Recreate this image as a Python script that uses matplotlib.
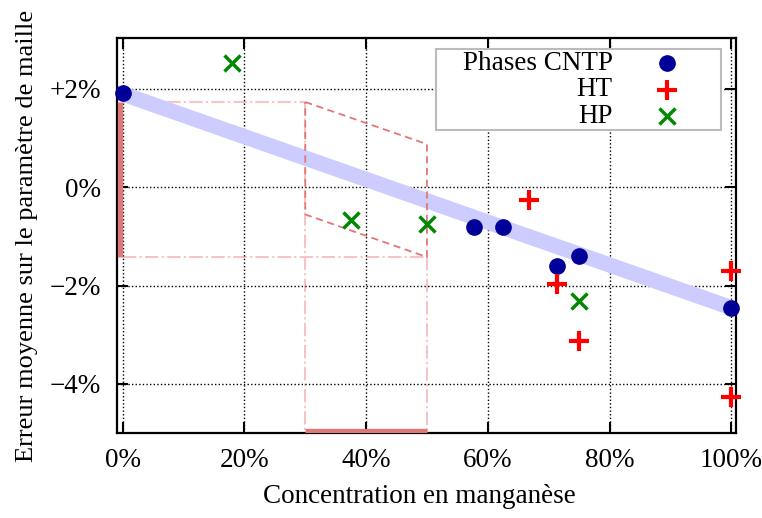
import numpy as np
import matplotlib
matplotlib.use("Agg")
import matplotlib.pyplot as plt
from matplotlib.patches import Rectangle
from matplotlib.ticker import FuncFormatter

plt.rcParams['font.family'] = ['Liberation Serif', 'DejaVu Serif']

# ------------------------------------------------------------------
# Donnees (concentration en Mn, erreur moyenne en %)
# ------------------------------------------------------------------
cntp_x = [0.0, 0.578, 0.625, 0.714, 0.75, 1.0]
cntp_y = [1.92, -0.80, -0.81, -1.60, -1.40, -2.46]

ht_x = [0.667, 0.714, 0.75, 1.0, 1.0]
ht_y = [-0.25, -1.97, -3.12, -1.70, -4.27]

hp_x = [0.18, 0.375, 0.5, 0.75]
hp_y = [2.53, -0.66, -0.74, -2.31]

# droite d'ajustement
fit_x = [0.0, 1.0]
fit_y = [1.90, -2.45]

# zone (parallelogramme) et ses projections
box_x = [0.3, 0.5]
box_top = [1.735, 0.877]
box_bot = [-0.553, -1.42]

xlim = (-0.01, 1.008)
ylim = (-5.0, 3.03)

# ------------------------------------------------------------------
fig = plt.figure(figsize=(7.62, 5.18), dpi=100)
ax = fig.add_axes([0.153, 0.164, 0.813, 0.762])

pink = '#f7c4c4'
dred = '#e07878'
fs = 19.5

# lignes de projection (tiret-point)
ax.plot([0, box_x[0]], [box_top[0], box_top[0]], color=pink, lw=1.5, ls='-.', zorder=1)
ax.plot([0, box_x[1]], [box_bot[1], box_bot[1]], color=pink, lw=1.5, ls='-.', zorder=1)
ax.plot([box_x[0], box_x[0]], [box_top[0], ylim[0]], color=pink, lw=1.5, ls='-.', zorder=1)
ax.plot([box_x[1], box_x[1]], [box_bot[1], ylim[0]], color=pink, lw=1.5, ls='-.', zorder=1)

# droite d'ajustement epaisse
ax.plot(fit_x, fit_y, color='#ccccff', lw=11, solid_capstyle='butt', zorder=2)

# parallelogramme en tirets
px = [box_x[0], box_x[1], box_x[1], box_x[0], box_x[0]]
py = [box_top[0], box_top[1], box_bot[1], box_bot[0], box_top[0]]
ax.plot(px, py, color=dred, lw=1.3, ls=(0, (4, 2.5)), zorder=3)

# projections sur les axes
ax.plot([-0.004, -0.004], [box_bot[1], box_top[0]], color=dred, lw=3.8,
        solid_capstyle='butt', zorder=4)
ax.plot(box_x, [-4.955, -4.955], color=dred, lw=3.8, solid_capstyle='butt', zorder=4)

# points
ax.plot(cntp_x, cntp_y, 'o', color='#000099', ms=11, ls='none', zorder=6, clip_on=False)
ax.plot(ht_x, ht_y, '+', color='#ff0000', ms=14, mew=3, ls='none', zorder=6, clip_on=False)
ax.plot(hp_x, hp_y, 'x', color='#008800', ms=11, mew=2.5, ls='none', zorder=6, clip_on=False)

# axes
ax.set_xlim(*xlim)
ax.set_ylim(*ylim)
ax.set_xticks([0, 0.2, 0.4, 0.6, 0.8, 1.0])
ax.set_yticks([-4, -2, 0, 2])
ax.xaxis.set_major_formatter(FuncFormatter(lambda v, p: f"{v*100:.0f}%"))


def yfmt(v, p):
    if v > 0:
        return f"+{v:.0f}%"
    if v < 0:
        return f"\u2212{abs(v):.0f}%"
    return "0%"


ax.yaxis.set_major_formatter(FuncFormatter(yfmt))
ax.tick_params(direction='in', length=8, width=1.5, top=True, right=True,
               labelsize=fs, pad=11)
ax.grid(True, color='black', ls=(0, (1, 1.6)), lw=1)
for s in ax.spines.values():
    s.set_linewidth(1.6)

ax.set_xlabel('Concentration en manganèse', fontsize=fs)
ax.set_ylabel('Erreur moyenne sur le paramètre de maille', fontsize=19)
ax.xaxis.set_label_coords(0.488, -0.13)
ax.yaxis.set_label_coords(-0.127, 0.5)

# legende (texte aligne a droite, symboles a droite)
ax.add_patch(Rectangle((0.515, 0.769), 0.461, 0.204, transform=ax.transAxes,
                       facecolor='white', edgecolor='#bbbbbb', lw=1.5, zorder=7))
leg = [("Phases CNTP", dict(marker='o', color='#000099', ms=11)),
       ("HT", dict(marker='+', color='#ff0000', ms=14, mew=3)),
       ("HP", dict(marker='x', color='#008800', ms=11, mew=2.5))]
for i, (lab, st) in enumerate(leg):
    yy = 0.937 - i * 0.067
    ax.text(0.801, yy, lab, transform=ax.transAxes, ha='right', va='center',
            fontsize=fs, zorder=8)
    ax.plot([0.888], [yy], ls='none', transform=ax.transAxes, zorder=8,
            clip_on=False, **st)

fig.savefig('out.png', dpi=100)
